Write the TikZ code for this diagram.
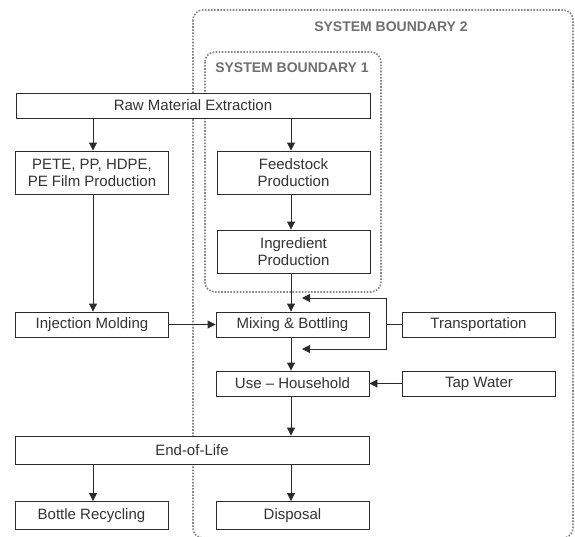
\documentclass[tikz,border=0pt]{standalone}
\usepackage{fontspec}
\setmainfont{Liberation Sans}
\usepackage{xcolor}
\usetikzlibrary{positioning,arrows.meta}

\definecolor{boxline}{HTML}{2B2B2B}
\definecolor{boxtext}{HTML}{333333}
\definecolor{bndgray}{HTML}{707070}
\definecolor{dotgray}{HTML}{858585}

\begin{document}
\begin{tikzpicture}[
    x=1pt, y=-1pt,
    box/.style={draw=boxline, fill=white, line width=0.9pt, minimum width=153pt,
        minimum height=25pt, inner sep=2pt, align=center,
        text=boxtext, font=\fontsize{15}{17}\selectfont},
    widebox/.style={box, minimum width=354pt},
    arr/.style={-{Triangle[length=8pt,width=8pt]}, line width=0.9pt, draw=boxline},
    ln/.style={line width=0.9pt, draw=boxline},
    bnd/.style={draw=dotgray, dash pattern=on 1.6pt off 1.5pt, line width=1.7pt,
        rounded corners=10pt},
    bndlbl/.style={font=\fontsize{14}{16}\selectfont\bfseries, text=bndgray},
]
\useasboundingbox (0,0) rectangle (575,536);

% system boundaries
\draw[bnd] (193,10) rectangle (573,538);
\draw[bnd] (205,52) rectangle (381,292);
\node[bndlbl] (sb2) at (391,27) {SYSTEM BOUNDARY 2};
\node[bndlbl] (sb1) at (292,68) {SYSTEM BOUNDARY 1};

% upstream
\node[widebox] (raw) at (193,105.5) {Raw Material Extraction};
\node[box, minimum height=43pt] (pete) at (92,172.5) {PETE, PP, HDPE,\\PE Film Production};
\node[box, minimum height=43pt] (feed) at (293.5,172.5) {Feedstock\\Production};
\node[box, minimum height=43pt] (ingr) at (293.5,251.5) {Ingredient\\Production};

\draw[arr] (raw.south -| 93,0) -- (pete.north -| 93,0);
\draw[arr] (raw.south -| 291,0) -- (feed.north -| 291,0);
\draw[arr] (feed.south -| 291,0) -- (ingr.north -| 291,0);

% manufacturing
\node[box] (inj) at (92,324.5) {Injection Molding};
\node[box] (mix) at (292.5,324.5) {Mixing \& Bottling};
\node[box] (trans) at (478.5,324.5) {Transportation};

\draw[arr] (pete.south -| 93,0) -- (inj.north -| 93,0);
\draw[arr] (ingr.south -| 291,0) -- (mix.north -| 291,0);
\draw[arr] (inj) -- (mix);

\coordinate (tin) at (302,298);
\coordinate (tout) at (302,349);
\draw[ln] (trans.west) -- (386,324.5);
\draw[arr] (386,324.5) |- (tin);
\draw[arr] (386,324.5) |- (tout);

% use phase
\node[box] (use) at (292.5,383.5) {Use -- Household};
\node[box] (tap) at (479,383.5) {Tap Water};

\draw[arr] (mix.south -| 291,0) -- (use.north -| 291,0);
\draw[arr] (tap) -- (use);

% end of life
\node[widebox, minimum height=28pt] (eol) at (192,450) {End-of-Life};
\node[box, minimum height=28pt] (recyc) at (91.5,515.5) {Bottle Recycling};
\node[box, minimum height=28pt] (disp) at (292.5,515.5) {Disposal};

\draw[arr] (use.south -| 291,0) -- (eol.north -| 291,0);
\draw[arr] (eol.south -| 93,0) -- (recyc.north -| 93,0);
\draw[arr] (eol.south -| 291,0) -- (disp.north -| 291,0);
\end{tikzpicture}
\end{document}
